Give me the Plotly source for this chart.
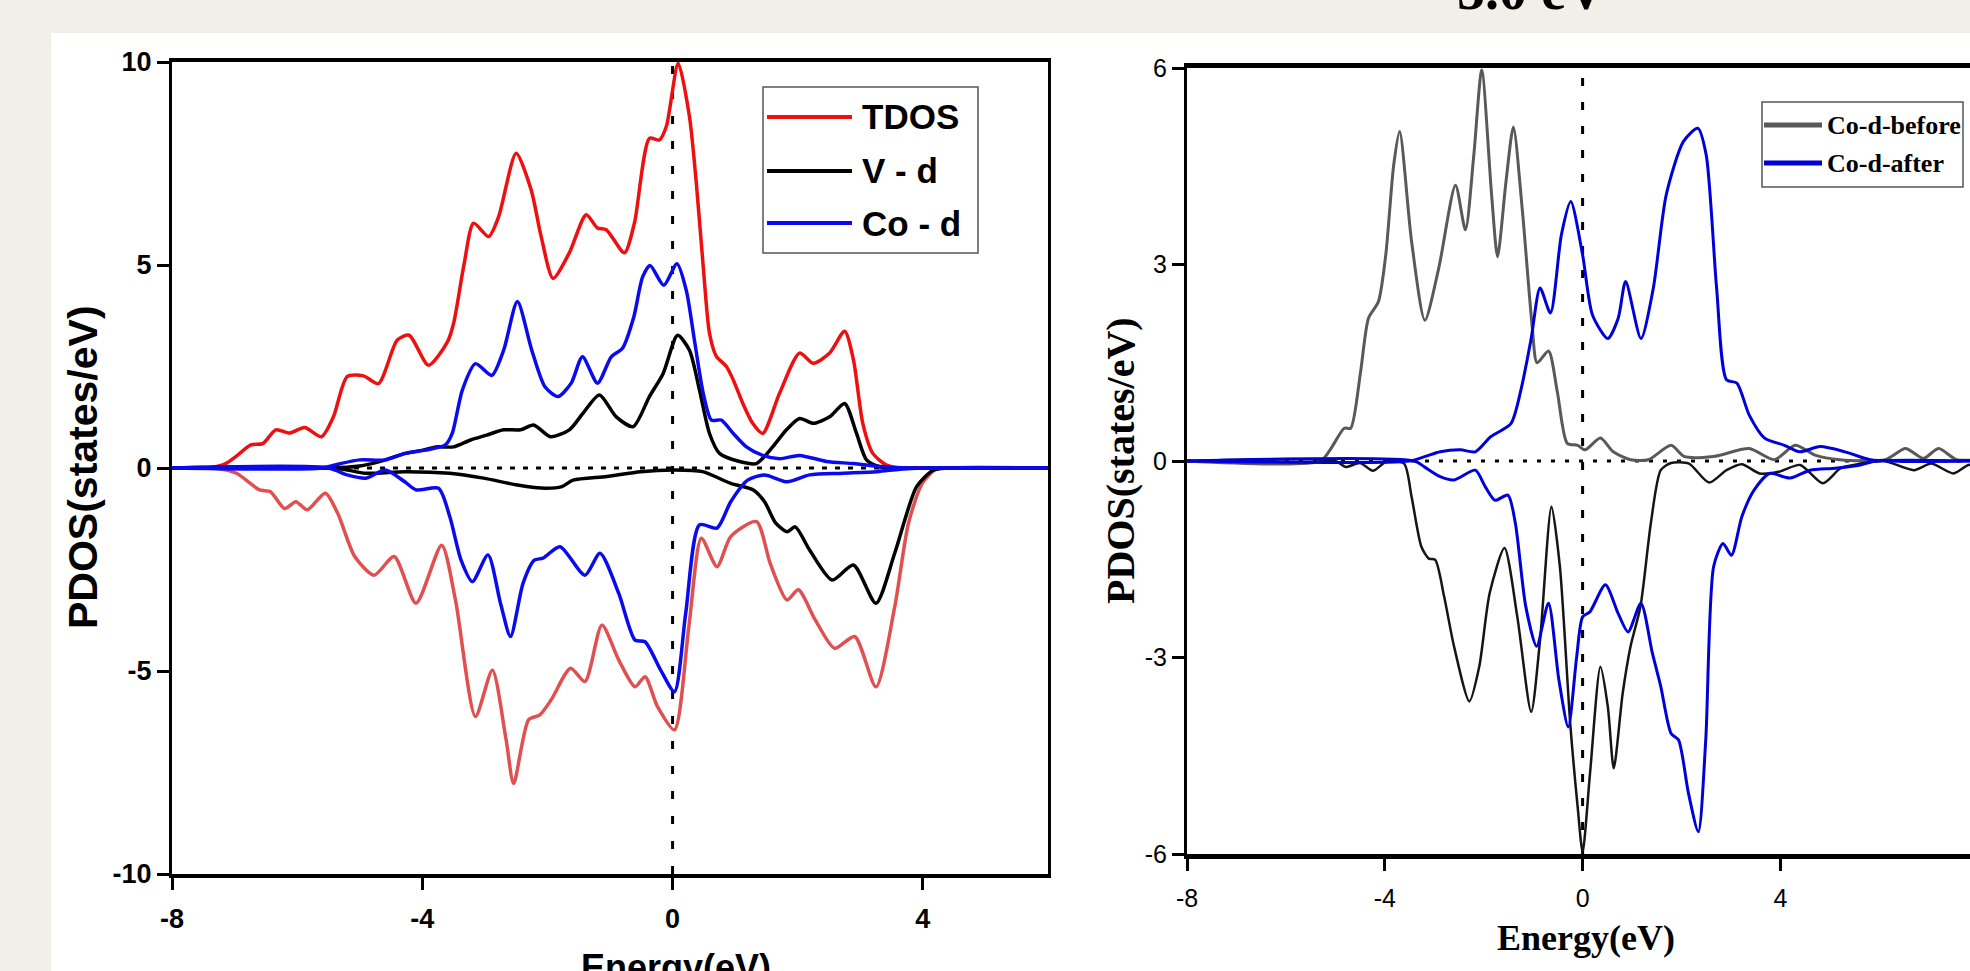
import plotly.graph_objects as go

W, H = 1970, 971

# ---------------- data : left panel (spin up > 0, spin down < 0) ----------------
tdos_up_x = [-8, -7.6, -7.35, -7.15, -6.98, -6.74, -6.55, -6.34, -6.12, -5.88, -5.61, -5.42, -5.2, -4.94,
             -4.7, -4.4, -4.21, -3.9, -3.6, -3.5, -3.33, -3.18, -2.94, -2.78, -2.5, -2.26, -2.1, -1.91,
             -1.65, -1.38, -1.2, -1.06, -0.77, -0.61, -0.37, -0.21, -0.1, 0.09, 0.27, 0.38, 0.49, 0.59,
             0.7, 0.86, 0.97, 1.12, 1.28, 1.44, 1.71, 2.03, 2.25, 2.51, 2.75, 2.89, 3.04, 3.2, 3.42,
             3.63, 4.0, 6.0]
tdos_up_y = [0, 0, 0.02, 0.1, 0.28, 0.57, 0.6, 0.94, 0.86, 1.0, 0.77, 1.26, 2.25, 2.27,
             2.08, 3.15, 3.27, 2.53, 3.1, 3.56, 5.04, 6.03, 5.7, 6.19, 7.75, 6.85, 5.7, 4.67,
             5.3, 6.24, 5.91, 5.87, 5.3, 6.03, 8.12, 8.08, 8.41, 9.97, 8.65, 7.01, 4.96, 3.32,
             2.75, 2.5, 2.17, 1.6, 1.1, 0.85, 1.84, 2.83, 2.58, 2.83, 3.37, 2.67, 1.1, 0.36, 0.07,
             0.0, 0, 0]

tdos_dn_x = [-8, -7.33, -6.97, -6.6, -6.43, -6.2, -6.02, -5.84, -5.55, -5.35, -5.08, -4.77, -4.45, -4.1,
             -3.69, -3.47, -3.15, -2.88, -2.66, -2.54, -2.3, -2.12, -1.94, -1.63, -1.4, -1.13, -0.86,
             -0.6, -0.44, -0.24, 0.03, 0.26, 0.46, 0.71, 0.93, 1.34, 1.56, 1.83, 2.01, 2.28, 2.59,
             2.91, 3.25, 3.55, 3.77, 3.99, 4.21, 4.4, 6]
tdos_dn_y = [0, 0, -0.13, -0.54, -0.58, -1.0, -0.83, -1.03, -0.62, -1.12, -2.18, -2.64, -2.18, -3.33,
             -1.9, -3.25, -6.12, -4.98, -6.7, -7.77, -6.2, -6.08, -5.71, -4.93, -5.26, -3.87, -4.73,
             -5.39, -5.14, -5.88, -6.45, -3.91, -1.73, -2.43, -1.69, -1.32, -2.35, -3.25, -3.0, -3.74, -4.44,
             -4.15, -5.39, -3.42, -1.36, -0.38, -0.03, 0, 0]

vd_up_x = [-8, -5.5, -5.0, -4.7, -4.27, -3.99, -3.78, -3.5, -3.23, -2.97, -2.7, -2.43, -2.22, -1.95,
           -1.65, -1.43, -1.17, -0.9, -0.63, -0.37, -0.15, 0.08, 0.27, 0.43, 0.59, 0.75, 1.07, 1.34,
           1.6, 1.82, 2.03, 2.25, 2.51, 2.75, 2.94, 3.1, 3.31, 3.6, 6]
vd_up_y = [0, 0, 0.05, 0.15, 0.36, 0.44, 0.52, 0.52, 0.69, 0.81, 0.94, 0.94, 1.06, 0.77,
           0.94, 1.35, 1.8, 1.26, 1.02, 1.76, 2.33, 3.27, 2.9, 1.92, 0.85, 0.36, 0.16, 0.11,
           0.52, 0.94, 1.22, 1.1, 1.26, 1.59, 0.85, 0.2, 0.03, 0, 0]

vd_dn_x = [-8, -5.4, -4.9, -4.28, -3.56, -3.02, -2.48, -2.03, -1.77, -1.59, -1.05, -0.51, 0.03, 0.48,
           0.93, 1.29, 1.47, 1.65, 1.83, 1.96, 2.19, 2.55, 2.89, 3.25, 3.55, 3.9, 4.17, 4.4, 6]
vd_dn_y = [0, 0, -0.13, -0.09, -0.13, -0.25, -0.42, -0.5, -0.46, -0.3, -0.21, -0.09, -0.05, -0.09,
           -0.38, -0.54, -0.83, -1.36, -1.57, -1.45, -2.02, -2.76, -2.39, -3.33, -2.1, -0.46, -0.05, 0, 0]

cod_up_x = [-8, -5.6, -5.33, -5.0, -4.59, -4.27, -3.95, -3.63, -3.52, -3.36, -3.15, -2.89, -2.7, -2.48,
            -2.25, -2.04, -1.83, -1.62, -1.44, -1.2, -0.98, -0.8, -0.62, -0.48, -0.36, -0.14, 0.07,
            0.22, 0.35, 0.49, 0.62, 0.78, 0.97, 1.18, 1.44, 1.71, 2.03, 2.46, 2.89, 3.37, 3.8, 6]
cod_up_y = [0, 0, 0.1, 0.2, 0.2, 0.36, 0.44, 0.57, 0.86, 1.92, 2.57, 2.28, 2.9, 4.1,
            2.9, 2.0, 1.76, 2.09, 2.74, 2.09, 2.74, 2.95, 3.72, 4.7, 4.99, 4.5, 5.03,
            4.37, 3.14, 1.84, 1.18, 1.18, 0.85, 0.52, 0.31, 0.23, 0.31, 0.16, 0.11, 0.03, 0, 0]

cod_dn_x = [-8, -5.5, -5.2, -4.9, -4.59, -4.28, -4.1, -3.74, -3.56, -3.38, -3.2, -2.95, -2.75, -2.59,
            -2.39, -2.21, -2.07, -1.8, -1.4, -1.16, -0.86, -0.6, -0.44, -0.19, 0.03, 0.21, 0.43,
            0.71, 0.93, 1.2, 1.47, 1.83, 2.19, 2.73, 3.27, 3.63, 4.0, 6]
cod_dn_y = [0, 0, -0.17, -0.25, -0.05, -0.34, -0.54, -0.5, -1.2, -2.27, -2.8, -2.14, -3.33, -4.15,
            -2.84, -2.27, -2.22, -1.94, -2.64, -2.1, -3.09, -4.24, -4.28, -4.98, -5.51, -3.58, -1.4,
            -1.48, -0.83, -0.3, -0.17, -0.34, -0.17, -0.13, -0.09, -0.03, 0, 0]

left_names = ["TDOS", "V - d", "Co - d"]
left_xticks = [-8, -4, 0, 4]
left_xticktext = ["-8", "-4", "0", "4"]
left_yticks = [-10, -5, 0, 5, 10]
left_yticktext = ["-10", "-5", "0", "5", "10"]

# ---------------- data : right panel ----------------
before_up_x = [-8, -5.3, -5.09, -4.82, -4.69, -4.49, -4.33, -4.13, -3.98, -3.82, -3.7, -3.46, -3.19, -2.91,
               -2.57, -2.37, -2.2, -2.04, -1.84, -1.72, -1.55, -1.4, -1.22, -1.02, -0.92, -0.69, -0.51,
               -0.31, -0.1, 0.05, 0.36, 0.62, 0.97, 1.33, 1.79, 2.05, 2.65, 3.37, 3.88, 4.3, 4.7, 5.2,
               6.12, 6.53, 6.89, 7.2, 7.56, 8]
before_up_y = [0, 0, 0.19, 0.5, 0.5, 1.36, 2.18, 2.43, 3.15, 4.52, 5.03, 3.36, 2.15, 2.94,
               4.21, 3.53, 4.67, 5.97, 4.06, 3.12, 4.26, 5.1, 3.84, 2.06, 1.5, 1.68, 1.05,
               0.27, 0.24, 0.17, 0.35, 0.14, 0.02, 0.02, 0.24, 0.07, 0.07, 0.19, 0.02, 0.24, 0.09, 0.02,
               0.02, 0.19, 0.04, 0.19, 0.02, 0.02]

before_dn_x = [-8, -5.0, -4.79, -4.5, -4.24, -3.95, -3.61, -3.46, -3.26, -3.11, -2.98, -2.8, -2.6, -2.29,
               -2.09, -1.88, -1.58, -1.32, -1.04, -0.86, -0.63, -0.46, -0.25, -0.1, 0.0, 0.15, 0.36,
               0.51, 0.63, 0.81, 0.97, 1.17, 1.38, 1.58, 1.79, 2.15, 2.56, 2.91, 3.22, 3.58, 3.99,
               4.4, 4.86, 5.22, 5.63, 6.1, 6.7, 7.05, 7.5, 7.8, 8]
before_dn_y = [0, 0, -0.09, -0.03, -0.15, 0, -0.04, -0.54, -1.31, -1.49, -1.51, -2.07, -2.83, -3.67,
               -3.14, -2.02, -1.33, -2.38, -3.83, -2.73, -0.7, -1.61, -4.01, -5.28, -5.97, -4.77, -3.14,
               -3.75, -4.69, -3.55, -2.83, -2.22, -0.95, -0.14, -0.03, -0.04, -0.33, -0.14, -0.05, -0.19, -0.16,
               -0.06, -0.34, -0.11, -0.04, 0, -0.14, -0.04, -0.19, -0.06, -0.06]

after_up_x = [-8, -3.5, -3.18, -2.88, -2.47, -2.17, -1.86, -1.45, -1.24, -1.04, -0.86, -0.65, -0.43, -0.24,
              0.0, 0.2, 0.51, 0.72, 0.87, 1.18, 1.43, 1.69, 2.04, 2.33, 2.5, 2.71, 2.91, 3.12, 3.37,
              3.68, 4.08, 4.39, 4.8, 5.31, 5.82, 8]
after_up_y = [0, 0, 0.07, 0.14, 0.17, 0.14, 0.37, 0.57, 1.11, 1.87, 2.64, 2.26, 3.45, 3.96,
              3.15, 2.23, 1.87, 2.18, 2.74, 1.87, 2.64, 4.06, 4.88, 5.08, 4.67, 2.64, 1.24, 1.19, 0.7,
              0.35, 0.24, 0.14, 0.22, 0.14, 0.02, 0]

after_dn_x = [-8, -3.4, -3.2, -2.88, -2.6, -2.17, -1.97, -1.77, -1.51, -1.36, -1.15, -0.93, -0.69, -0.48,
              -0.29, -0.12, 0.0, 0.15, 0.46, 0.72, 0.92, 1.18, 1.41, 1.58, 1.79, 1.94, 2.14, 2.34,
              2.49, 2.65, 2.84, 3.01, 3.22, 3.47, 3.78, 4.19, 4.6, 5.11, 5.62, 5.93, 8]
after_dn_y = [0, 0, -0.09, -0.24, -0.29, -0.14, -0.39, -0.6, -0.52, -0.95, -2.22, -2.83, -2.17, -3.34,
              -4.06, -2.99, -2.38, -2.3, -1.89, -2.33, -2.61, -2.17, -2.93, -3.44, -4.16, -4.26, -5.07, -5.66,
              -4.26, -1.61, -1.26, -1.44, -0.85, -0.44, -0.19, -0.26, -0.14, -0.11, -0.06, 0, 0]

right_names = ["Co-d-before", "Co-d-after"]
right_xticks = [-8, -4, 0, 4, 8]
right_xticktext = ["-8", "-4", "0", "4", "8"]
right_yticks = [-6, -3, 0, 3, 6]
right_yticktext = ["-6", "-3", "0", "3", "6"]
right_title = "5.0 eV"

# ---------------- styling ----------------
RED, RED_DN, BLACK, BLUE = "#ee1010", "#e05050", "#000000", "#0a0aee"
GRAY, BLUE2, BLACK2 = "#595959", "#0000d8", "#151515"
SANS = "Liberation Sans, Arial, sans-serif"
SERIF = "Liberation Serif, Times New Roman, serif"


def px(x):
    return x / W


def py(y):
    return 1 - y / H


def curve(x, y, color, width, xa, ya, name):
    return go.Scatter(x=x, y=y, mode="lines", name=name, showlegend=False, hoverinfo="skip",
                      line=dict(color=color, width=width, shape="spline", smoothing=0.7),
                      xaxis=xa, yaxis=ya)


fig = go.Figure()
fig.add_trace(curve(tdos_up_x, tdos_up_y, RED, 3.5, "x", "y", left_names[0]))
fig.add_trace(curve(tdos_dn_x, tdos_dn_y, RED_DN, 3.5, "x", "y", left_names[0]))
fig.add_trace(curve(vd_up_x, vd_up_y, BLACK, 3.5, "x", "y", left_names[1]))
fig.add_trace(curve(vd_dn_x, vd_dn_y, BLACK, 3.5, "x", "y", left_names[1]))
fig.add_trace(curve(cod_up_x, cod_up_y, BLUE, 3.5, "x", "y", left_names[2]))
fig.add_trace(curve(cod_dn_x, cod_dn_y, BLUE, 3.5, "x", "y", left_names[2]))

fig.add_trace(curve(before_up_x, before_up_y, GRAY, 3, "x2", "y2", right_names[0]))
fig.add_trace(curve(before_dn_x, before_dn_y, BLACK2, 2.5, "x2", "y2", right_names[0]))
fig.add_trace(curve(after_up_x, after_up_y, BLUE2, 3, "x2", "y2", right_names[1]))
fig.add_trace(curve(after_dn_x, after_dn_y, BLUE2, 3, "x2", "y2", right_names[1]))

shapes = [
    # white page panel
    dict(type="rect", xref="paper", yref="paper", x0=px(51), x1=1, y0=0, y1=py(33),
         fillcolor="white", line=dict(width=0), layer="below"),
    # reference lines left
    dict(type="line", xref="x", yref="y", x0=0, x1=0, y0=-10, y1=10,
         line=dict(color="black", width=3, dash="8px,17px"), layer="below"),
    dict(type="line", xref="x", yref="y", x0=-8, x1=6, y0=0, y1=0,
         line=dict(color="black", width=3, dash="5px,8px"), layer="below"),
    # reference lines right
    dict(type="line", xref="x2", yref="y2", x0=0, x1=0, y0=-6, y1=6,
         line=dict(color="black", width=3, dash="8px,16px"), layer="below"),
    dict(type="line", xref="x2", yref="y2", x0=-8, x1=8, y0=0, y1=0,
         line=dict(color="black", width=3, dash="4px,10px"), layer="below"),
]

annotations = []

# legend left (drawn manually to mimic long line samples)
shapes.append(dict(type="rect", xref="paper", yref="paper", x0=px(763), x1=px(978), y0=py(253), y1=py(87),
                   fillcolor="white", line=dict(color="#555555", width=1.5), layer="above"))
for name, col, yy in zip(left_names, [RED, BLACK, BLUE], [117, 171, 223]):
    shapes.append(dict(type="line", xref="paper", yref="paper", x0=px(767), x1=px(852), y0=py(yy), y1=py(yy),
                       line=dict(color=col, width=4), layer="above"))
    annotations.append(dict(xref="paper", yref="paper", x=px(860), y=py(yy), xanchor="left", yanchor="middle",
                            text="<b>%s</b>" % name, showarrow=False,
                            font=dict(family=SANS, size=35, color="black")))

# legend right
shapes.append(dict(type="rect", xref="paper", yref="paper", x0=px(1762), x1=px(1963), y0=py(187), y1=py(102),
                   fillcolor="white", line=dict(color="#555555", width=1.5), layer="above"))
for name, col, yy in zip(right_names, [GRAY, BLUE2], [125, 163]):
    shapes.append(dict(type="line", xref="paper", yref="paper", x0=px(1764), x1=px(1822), y0=py(yy), y1=py(yy),
                       line=dict(color=col, width=5), layer="above"))
    annotations.append(dict(xref="paper", yref="paper", x=px(1825), y=py(yy), xanchor="left", yanchor="middle",
                            text="<b>%s</b>" % name, showarrow=False,
                            font=dict(family=SERIF, size=26, color="black")))

# axis titles
annotations += [
    dict(xref="paper", yref="paper", x=px(83), y=py(467), xanchor="center", yanchor="middle",
         text="<b>PDOS(states/eV)</b>", textangle=-90, showarrow=False,
         font=dict(family=SANS, size=41, color="black")),
    dict(xref="paper", yref="paper", x=px(676), y=py(945), xanchor="center", yanchor="top",
         text="<b>Energy(eV)</b>", showarrow=False, font=dict(family=SANS, size=36, color="black")),
    dict(xref="paper", yref="paper", x=px(1120), y=py(461), xanchor="center", yanchor="middle",
         text="<b>PDOS(states/eV)</b>", textangle=-90, showarrow=False,
         font=dict(family=SERIF, size=40, color="black")),
    dict(xref="paper", yref="paper", x=px(1586), y=py(916), xanchor="center", yanchor="top",
         text="<b>Energy(eV)</b>", showarrow=False, font=dict(family=SERIF, size=36, color="black")),
    dict(xref="paper", yref="paper", x=px(1531), y=py(23), xanchor="center", yanchor="bottom",
         text="<b>%s</b>" % right_title, showarrow=False, font=dict(family=SERIF, size=56, color="black")),
]

fig.update_layout(
    width=W, height=H, margin=dict(l=0, r=0, t=0, b=0),
    paper_bgcolor="#f2efe8", plot_bgcolor="white", showlegend=False,
    shapes=shapes, annotations=annotations,
    xaxis=dict(domain=[px(172), px(1048)], range=[-8, 6], anchor="y",
               tickmode="array", tickvals=left_xticks, ticktext=left_xticktext,
               ticks="outside", ticklen=12, tickwidth=3, tickcolor="black",
               showline=True, linewidth=4, linecolor="black", mirror=True,
               showgrid=False, zeroline=False, automargin=False, ticklabelstandoff=6,
               tickfont=dict(family=SANS, size=27, color="black", weight="bold")),
    yaxis=dict(domain=[py(874), py(62)], range=[-10, 10], anchor="x",
               tickmode="array", tickvals=left_yticks, ticktext=left_yticktext,
               ticks="outside", ticklen=12, tickwidth=3, tickcolor="black",
               showline=True, linewidth=3, linecolor="black", mirror=True,
               showgrid=False, zeroline=False, automargin=False,
               tickfont=dict(family=SANS, size=27, color="black", weight="bold")),
    xaxis2=dict(domain=[px(1187), 1.0], range=[-8, (1970 - 1583) / 49.4], anchor="y2",
                tickmode="array", tickvals=right_xticks, ticktext=right_xticktext,
                ticks="outside", ticklen=12, tickwidth=3, tickcolor="black",
                showline=True, linewidth=5, linecolor="black", mirror=True,
                showgrid=False, zeroline=False, automargin=False, ticklabelstandoff=6,
                tickfont=dict(family=SANS, size=25, color="black")),
    yaxis2=dict(domain=[py(854), py(68)], range=[-6, 6], anchor="x2",
                tickmode="array", tickvals=right_yticks, ticktext=right_yticktext,
                ticks="outside", ticklen=12, tickwidth=3, tickcolor="black",
                showline=True, linewidth=3, linecolor="black", mirror=False,
                showgrid=False, zeroline=False, automargin=False,
                tickfont=dict(family=SANS, size=25, color="black")),
)

fig.write_html("out.html", config={"displayModeBar": False},
               post_script="document.body.style.margin='0';document.body.style.overflow='hidden';")
